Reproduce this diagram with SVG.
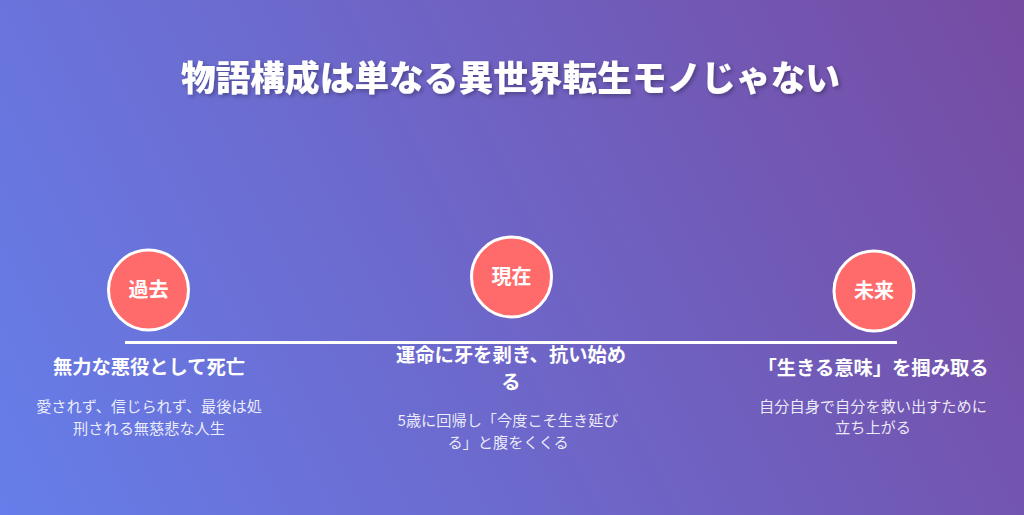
<svg xmlns="http://www.w3.org/2000/svg" width="1024" height="515" viewBox="0 0 1024 515">
  <defs>
    <linearGradient id="bg" x1="0" y1="515" x2="1024" y2="0" gradientUnits="userSpaceOnUse">
      <stop offset="0" stop-color="#667eea"/>
      <stop offset="1" stop-color="#764ba2"/>
    </linearGradient>
    <filter id="shadow" x="-10%" y="-30%" width="120%" height="160%">
      <feDropShadow dx="2" dy="2" stdDeviation="2" flood-color="#000" flood-opacity="0.3"/>
    </filter>
    <style>
      text { font-family: "Noto Sans CJK JP", "Noto Sans", sans-serif; fill: #ffffff; text-anchor: middle; }
      .title { font-size: 34.7px; font-weight: 900; }
      .circle { fill: #ff6b6b; stroke: #ffffff; stroke-width: 3; }
      .clabel { font-size: 20px; font-weight: 700; }
      .head { font-size: 19.3px; font-weight: 700; }
      .desc { font-size: 15.2px; fill: rgba(255,255,255,0.88); }
      .line { stroke: #ffffff; stroke-width: 3; }
    </style>
  </defs>
  <rect x="0" y="0" width="1024" height="515" fill="url(#bg)"/>
  <text class="title" x="510.5" y="91" filter="url(#shadow)">物語構成は単なる異世界転生モノじゃない</text>

  <g id="connectors">
    <line class="line" x1="125" y1="342.5" x2="897" y2="342.5"/>
  </g>

  <g id="node-past">
    <circle class="circle" cx="148.5" cy="290" r="40"/>
    <text class="clabel" x="148.5" y="297">過去</text>
    <text class="head" x="149" y="374">無力な悪役として死亡</text>
    <text class="desc" x="149" y="412">愛されず、信じられず、最後は処</text>
    <text class="desc" x="149" y="434">刑される無慈悲な人生</text>
  </g>

  <g id="node-present">
    <circle class="circle" cx="511.5" cy="277" r="40"/>
    <text class="clabel" x="511.5" y="284">現在</text>
    <text class="head" x="511" y="362">運命に牙を剥き、抗い始め</text>
    <text class="head" x="511" y="389">る</text>
    <text class="desc" x="508" y="426">5歳に回帰し「今度こそ生き延び</text>
    <text class="desc" x="508" y="448">る」と腹をくくる</text>
  </g>

  <g id="node-future">
    <circle class="circle" cx="874" cy="291" r="40"/>
    <text class="clabel" x="874" y="298">未来</text>
    <text class="head" x="873" y="375">「生きる意味」を掴み取る</text>
    <text class="desc" x="873" y="412">自分自身で自分を救い出すために</text>
    <text class="desc" x="873" y="433">立ち上がる</text>
  </g>
</svg>
